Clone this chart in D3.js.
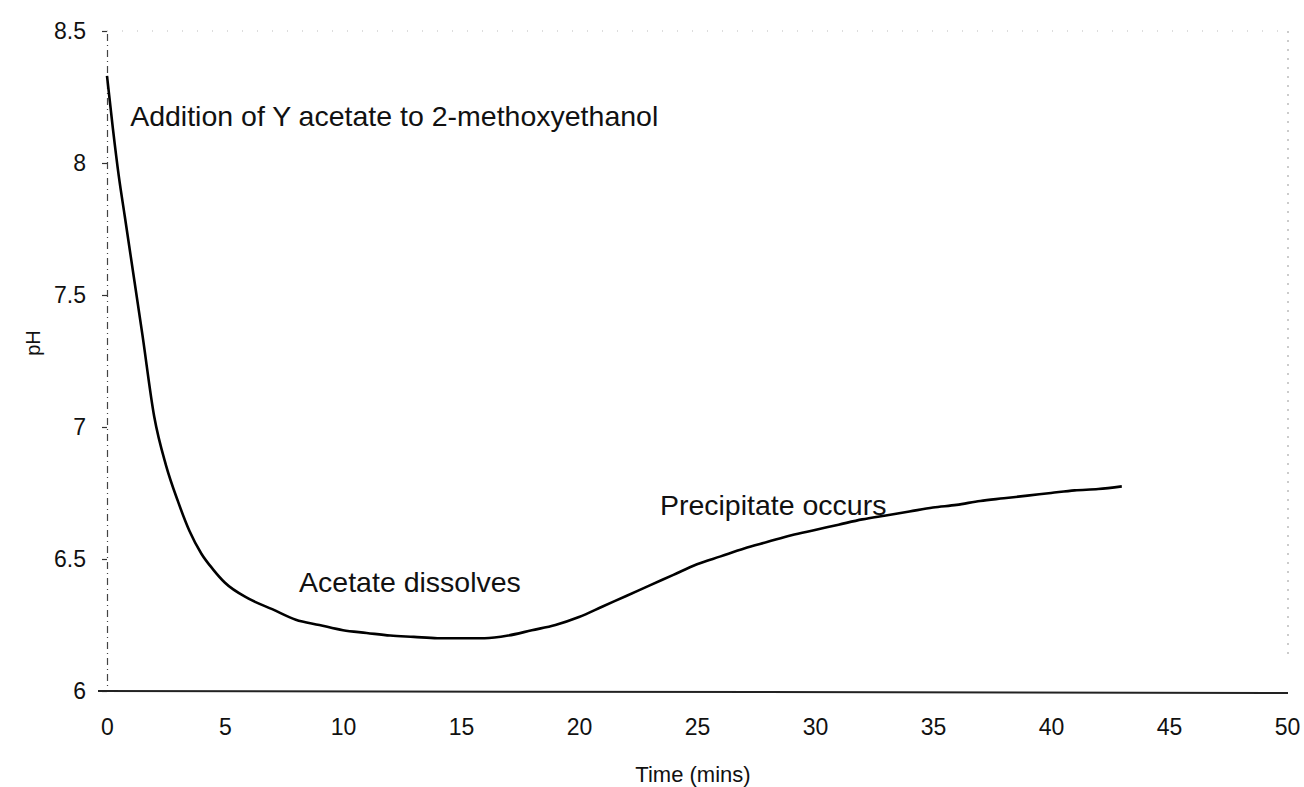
<!DOCTYPE html>
<html>
<head>
<meta charset="utf-8">
<script src="https://cdn.jsdelivr.net/npm/d3@7/dist/d3.min.js"></script>
<style>
  html, body { margin: 0; padding: 0; background: #fff; }
  svg text { font-family: "Liberation Sans", Arial, Helvetica, sans-serif; fill: #111; }
</style>
</head>
<body>
<svg id="chart" width="1304" height="787"></svg>
<script>
// pH of the solution over time (minutes)
const timeMins = [0, 0.25, 0.5, 0.75, 1, 1.5, 2, 2.5, 3, 3.5, 4, 4.5, 5, 6, 7, 8, 9, 10,
  11, 12, 13, 14, 15, 16, 17, 18, 19, 20, 21, 22, 23, 24, 25, 26, 27, 28, 29, 30,
  31, 32, 33, 34, 35, 36, 37, 38, 39, 40, 41, 42, 43];
const phValues = [8.33, 8.13, 7.95, 7.80, 7.65, 7.35, 7.04, 6.855, 6.72, 6.605, 6.52, 6.46, 6.41, 6.35, 6.31, 6.27, 6.25, 6.23,
  6.22, 6.21, 6.205, 6.20, 6.20, 6.20, 6.21, 6.23, 6.25, 6.28, 6.32, 6.36, 6.40, 6.44, 6.48, 6.51, 6.54, 6.565, 6.59, 6.61,
  6.63, 6.65, 6.665, 6.68, 6.695, 6.705, 6.72, 6.73, 6.74, 6.75, 6.76, 6.765, 6.775];

const xTicks = [0, 5, 10, 15, 20, 25, 30, 35, 40, 45, 50];
const yTicks = [6, 6.5, 7, 7.5, 8, 8.5];
const yTickLabels = ["6", "6.5", "7", "7.5", "8", "8.5"];

const notes = [
  { t: 0.98, v: 8.14, text: "Addition of Y acetate to 2-methoxyethanol" },
  { t: 8.14, v: 6.375, text: "Acetate dissolves" },
  { t: 23.43, v: 6.667, text: "Precipitate occurs" }
];

const svg = d3.select("#chart");
const padL = 107, padR = 1287, padT = 31, padB = 691;

const x = d3.scaleLinear().domain([0, 50]).range([padL, padR]);
const y = d3.scaleLinear().domain([6, 8.5]).range([padB, padT]);

// frame: faint dotted top and right edges
svg.append("line")
  .attr("x1", x(0)).attr("x2", x(50)).attr("y1", y(8.5)).attr("y2", y(8.5))
  .attr("stroke", "#bbb").attr("stroke-width", 1).attr("stroke-dasharray", "1 14");
svg.append("line")
  .attr("x1", x(50) + 1).attr("x2", x(50) + 1).attr("y1", y(8.5)).attr("y2", y(6) - 30)
  .attr("stroke", "#999").attr("stroke-width", 1).attr("stroke-dasharray", "2 7");

// dashed y axis with short ticks
const yAxis = d3.axisLeft(y).tickValues(yTicks)
  .tickFormat((d, i) => yTickLabels[i]).tickSize(5).tickPadding(16);
const gy = svg.append("g").attr("transform", `translate(${padL},0)`).call(yAxis);
gy.select(".domain").attr("stroke", "#444").attr("stroke-width", 1.2).attr("stroke-dasharray", "7 4 1 4");
gy.selectAll(".tick line").attr("stroke", "#333").attr("stroke-width", 1.2);
gy.selectAll(".tick text").attr("font-size", 23).attr("fill", "#111")
  .style("font-family", '"Liberation Sans", Arial, sans-serif');

const xAxis = d3.axisBottom(x).tickValues(xTicks).tickSize(0).tickPadding(28);
const gx = svg.append("g").attr("transform", `translate(0,${padB})`).call(xAxis);
gx.select(".domain").remove();
gx.selectAll(".tick text").attr("font-size", 23).attr("fill", "#111")
  .style("font-family", '"Liberation Sans", Arial, sans-serif');

// baseline at pH 6, extending slightly left of the axis like the tick
svg.append("line")
  .attr("x1", x(0) - 9).attr("x2", x(50) + 1).attr("y1", y(6)).attr("y2", y(6) + 2)
  .attr("stroke", "#222").attr("stroke-width", 2);

// pH curve
const line = d3.line().x((d, i) => x(timeMins[i])).y(d => y(d)).curve(d3.curveMonotoneX);
svg.append("path")
  .datum(phValues)
  .attr("d", line)
  .attr("fill", "none")
  .attr("stroke", "#000")
  .attr("stroke-width", 2.6)
  .attr("stroke-linejoin", "round");

// annotations
svg.selectAll("text.note").data(notes).enter().append("text")
  .attr("class", "note")
  .attr("x", d => x(d.t)).attr("y", d => y(d.v))
  .attr("font-size", 28.5)
  .text(d => d.text);

// axis titles
svg.append("text")
  .attr("x", 693).attr("y", 782)
  .attr("text-anchor", "middle").attr("font-size", 22)
  .text("Time (mins)");
svg.append("text")
  .attr("transform", `translate(40,343) rotate(-90)`)
  .attr("text-anchor", "middle").attr("font-size", 20)
  .text("pH");
</script>
</body>
</html>
